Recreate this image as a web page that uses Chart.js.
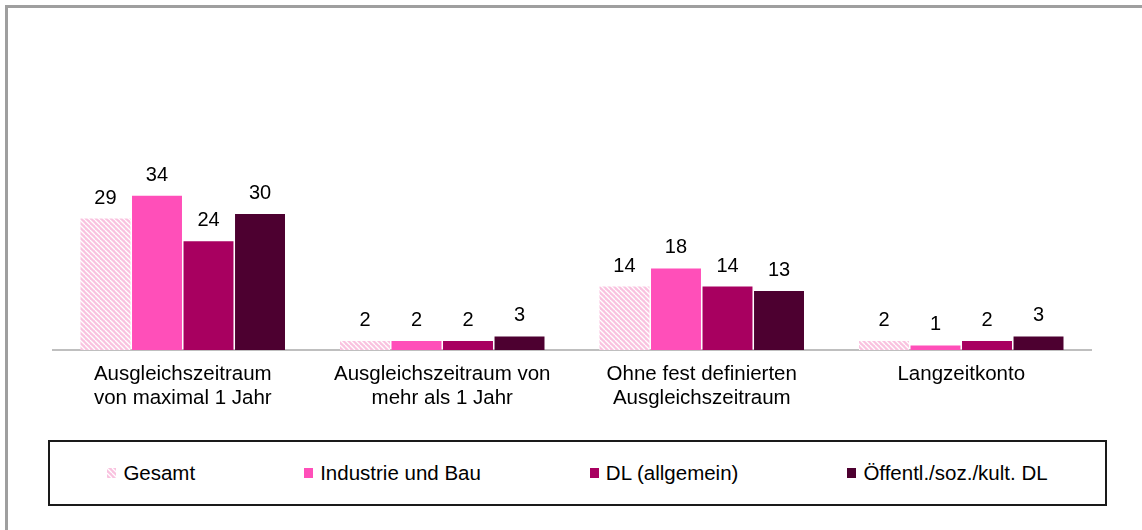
<!DOCTYPE html>
<html>
<head>
<meta charset="utf-8">
<script src="https://cdn.jsdelivr.net/npm/chart.js@4"></script>
<style>
  body { margin: 0; background: #fff; font-family: "Liberation Sans", Arial, sans-serif; }
  #frame { position: absolute; left: 5px; top: 5px; width: 1200px; height: 600px;
           border-top: 3px solid #9f9f9f; border-left: 3px solid #9f9f9f; }
  #wrap { position: absolute; left: 0; top: 0; width: 1142px; height: 430px; }
  #legendBox { position: absolute; left: 48px; top: 440px; width: 1055px; height: 62px;
               border: 2px solid #1a1a1a; display: flex; align-items: center; justify-content: center; gap: 109px; }
  .item { display: flex; align-items: center; font-size: 20.5px; color: #000; white-space: nowrap; }
  .item canvas { margin-right: 7px; }
</style>
</head>
<body>
<div id="frame"></div>
<div id="wrap"><canvas id="myChart" width="1142" height="430"></canvas></div>
<div id="legendBox"></div>
<script>
'use strict';

const categories = [
  ['Ausgleichszeitraum', 'von maximal 1 Jahr'],
  ['Ausgleichszeitraum von', 'mehr als 1 Jahr'],
  ['Ohne fest definierten', 'Ausgleichszeitraum'],
  'Langzeitkonto'
];
const seriesNames = ['Gesamt', 'Industrie und Bau', 'DL (allgemein)', 'Öffentl./soz./kult. DL'];
const gesamt = [29, 2, 14, 2];
const industrieBau = [34, 2, 18, 1];
const dlAllgemein = [24, 2, 14, 2];
const oeffentlDL = [30, 3, 13, 3];

// hatched fill for "Gesamt"
function makeHatch(){
  const p = document.createElement('canvas');
  p.width = 5; p.height = 5;
  const c = p.getContext('2d');
  c.fillStyle = '#f9c2df';
  c.fillRect(0, 0, 5, 5);
  c.strokeStyle = '#ffffff';
  c.lineWidth = 1.3;
  c.beginPath();
  for (let k = -5; k <= 10; k += 5) {
    c.moveTo(k, 0);
    c.lineTo(k + 5, 5);
  }
  c.stroke();
  return c.createPattern(p, 'repeat');
}
const hatch = makeHatch();
const colors = [hatch, '#ff4fb9', '#a80060', '#4d0030'];

const valueLabels = {
  id: 'valueLabels',
  afterDatasetsDraw(chart){
    const ctx = chart.ctx;
    ctx.save();
    ctx.font = '20px "Liberation Sans", Arial, sans-serif';
    ctx.fillStyle = '#000';
    ctx.textAlign = 'center';
    ctx.textBaseline = 'alphabetic';
    chart.data.datasets.forEach((ds, i) => {
      chart.getDatasetMeta(i).data.forEach((bar, j) => {
        ctx.fillText(ds.data[j], bar.x, bar.y - 15);
      });
    });
    ctx.restore();
  }
};

const chart = new Chart(document.getElementById('myChart'), {
  type: 'bar',
  data: {
    labels: categories,
    datasets: [gesamt, industrieBau, dlAllgemein, oeffentlDL].map((d, i) => ({
      label: seriesNames[i],
      data: d,
      backgroundColor: colors[i],
      borderWidth: 0,
      categoryPercentage: 0.794,
      barPercentage: 0.97
    }))
  },
  options: {
    responsive: false,
    animation: false,
    layout: { padding: { left: 53, right: 51, top: 78, bottom: 8 } },
    plugins: {
      legend: { display: false },
      tooltip: { enabled: false }
    },
    scales: {
      y: { display: false, min: 0, max: 60 },
      x: {
        grid: { display: false, drawTicks: false },
        border: { color: '#bfbfbf', width: 2 },
        ticks: {
          color: '#000',
          padding: 12,
          maxRotation: 0,
          font: { family: '"Liberation Sans", Arial, sans-serif', size: 20.5, lineHeight: 24 / 20.5 }
        }
      }
    }
  },
  plugins: [valueLabels]
});

// legend built from the chart's own legend items
const box = document.getElementById('legendBox');
chart.options.plugins.legend.labels.generateLabels(chart).forEach(item => {
  const el = document.createElement('div');
  el.className = 'item';
  const sw = document.createElement('canvas');
  sw.width = 9; sw.height = 10;
  const sctx = sw.getContext('2d');
  sctx.fillStyle = chart.data.datasets[item.datasetIndex].backgroundColor;
  sctx.fillRect(0, 0, 9, 10);
  el.appendChild(sw);
  el.appendChild(document.createTextNode(item.text));
  box.appendChild(el);
});
</script>
</body>
</html>
